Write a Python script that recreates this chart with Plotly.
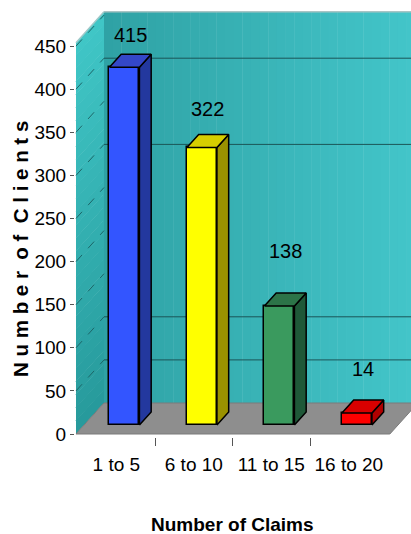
import plotly.graph_objects as go

# ---------------- data ----------------
categories = ["1 to 5", "6 to 10", "11 to 15", "16 to 20"]
clients = [415, 322, 138, 14]
y_tick_values = [0, 50, 100, 150, 200, 250, 300, 350, 400, 450]
back_grid_values = [50, 100, 300, 400]

# ---------------- styles ----------------
front_colors = ["#3355FF", "#FFFF00", "#3A9A5E", "#FF0000"]
side_colors = ["#23389E", "#9A9200", "#1F5838", "#B00000"]
top_colors = ["#3447C8", "#D6CE00", "#2C7448", "#D80000"]
label_shift = [19, 25, 42, 31]

FONT = "Liberation Sans, Arial, sans-serif"

W, H = 411, 534
ML, MR, MT, MB = 75, 0, 0, 97
PW, PH = W - ML - MR, H - MT - MB
PX_PER_CAT = 77.5
PX_PER_VAL = 0.862
CAT0_PX = 116.3
ZERO_PX = 434.0

x_min = -(CAT0_PX - ML) / PX_PER_CAT
x_max = x_min + PW / PX_PER_CAT
y_min = -(MT + PH - ZERO_PX) / PX_PER_VAL
y_max = y_min + PH / PX_PER_VAL

DEPTH_DX = 28 / PX_PER_CAT
DEPTH_DY = 31 / PX_PER_VAL
Z_FRONT, Z_BACK = 0.29, 0.71
BAR_W = 0.387
WALL_X = -0.52
RIGHT_X = 3.53
WALL_TOP = 454


def proj(x, v, z):
    return x + z * DEPTH_DX, v + z * DEPTH_DY


def hexc(c):
    c = c.lstrip("#")
    return [int(c[i:i + 2], 16) for i in (0, 2, 4)]


def lerp(c1, c2, t):
    a, b = hexc(c1), hexc(c2)
    return "rgb(%d,%d,%d)" % tuple(round(a[k] + (b[k] - a[k]) * t) for k in range(3))


def poly_path(pts):
    return "M " + " L ".join("%.5f,%.5f" % p for p in pts) + " Z"


def px_to_paper(xp, yp):
    return (xp - ML) / PW, (MT + PH - yp) / PH


shapes = []
# back wall (horizontal gradient in strips)
N = 40
bx0, _ = proj(WALL_X, 0, 1)
bx1 = x_max + 0.5
_, bv0 = proj(0, 0, 1)
_, bv1 = proj(0, WALL_TOP, 1)
for k in range(N):
    xa = bx0 + (bx1 - bx0) * k / N
    xb = bx0 + (bx1 - bx0) * (k + 1.05) / N
    shapes.append(dict(type="rect", xref="x", yref="y", x0=xa, x1=xb, y0=bv0, y1=bv1,
                       fillcolor=lerp("#2FA2A5", "#45C9CD", k / (N - 1)),
                       line=dict(width=0), layer="below"))
# side wall (vertical gradient in bands)
M = 30
for k in range(M):
    va = WALL_TOP * k / M
    vb = WALL_TOP * min(1, (k + 1.05) / M)
    pts = [proj(WALL_X, va, 0), proj(WALL_X, vb, 0), proj(WALL_X, vb, 1), proj(WALL_X, va, 1)]
    shapes.append(dict(type="path", xref="x", yref="y", path=poly_path(pts),
                       fillcolor=lerp("#279A9C", "#40C6C6", k / (M - 1)),
                       line=dict(width=0), layer="below"))
# floor
floor_pts = [proj(WALL_X, 0, 0), proj(WALL_X, 0, 1), proj(RIGHT_X, 0, 1), proj(RIGHT_X, 0, 0)]
shapes.append(dict(type="path", xref="x", yref="y", path=poly_path(floor_pts),
                   fillcolor="#8E8E8E", line=dict(width=1, color="#7A7A7A"), layer="below"))
# top edges of walls
p_a, p_b = proj(WALL_X, WALL_TOP, 0), proj(WALL_X, WALL_TOP, 1)
shapes.append(dict(type="line", xref="x", yref="y", x0=p_a[0], y0=p_a[1], x1=p_b[0], y1=p_b[1],
                   line=dict(color="#9FC9C9", width=1.5), layer="below"))
shapes.append(dict(type="line", xref="x", yref="y", x0=p_b[0], y0=p_b[1], x1=bx1, y1=p_b[1],
                   line=dict(color="#A9C4C4", width=1.5), layer="below"))
# back wall gridlines
for v in back_grid_values:
    a, b = proj(WALL_X, v, 1), proj(RIGHT_X + 1, v, 1)
    shapes.append(dict(type="line", xref="x", yref="y", x0=a[0], y0=a[1], x1=b[0], y1=b[1],
                       line=dict(color="#1B5557", width=1), layer="below"))
# side wall dashed gridlines
for v in y_tick_values[1:]:
    a, b = proj(WALL_X, v, 0), proj(WALL_X, v, 1)
    shapes.append(dict(type="line", xref="x", yref="y", x0=a[0], y0=a[1], x1=b[0], y1=b[1],
                       line=dict(color="#1C6668", width=1, dash="dash"), layer="below"))

fig = go.Figure()
# front faces of bars
fig.add_trace(go.Bar(
    x=[i + Z_FRONT * DEPTH_DX for i in range(len(categories))],
    y=clients,
    base=Z_FRONT * DEPTH_DY,
    width=BAR_W,
    marker=dict(color=front_colors, line=dict(color="#000000", width=1.5)),
    hoverinfo="skip", showlegend=False,
))
# side and top faces
for i, v in enumerate(clients):
    xl, xr = i - BAR_W / 2, i + BAR_W / 2
    side = [proj(xr, 0, Z_FRONT), proj(xr, v, Z_FRONT), proj(xr, v, Z_BACK), proj(xr, 0, Z_BACK)]
    top = [proj(xl, v, Z_FRONT), proj(xr, v, Z_FRONT), proj(xr, v, Z_BACK), proj(xl, v, Z_BACK)]
    for pts, col in ((side, side_colors[i]), (top, top_colors[i])):
        fig.add_trace(go.Scatter(
            x=[p[0] for p in pts] + [pts[0][0]], y=[p[1] for p in pts] + [pts[0][1]],
            mode="lines", fill="toself", fillcolor=col,
            line=dict(color="#000000", width=1.5),
            hoverinfo="skip", showlegend=False))

annotations = []
for i, v in enumerate(clients):
    cx, _ = proj(i, v, (Z_FRONT + Z_BACK) / 2)
    _, ty = proj(i, v, Z_BACK)
    annotations.append(dict(x=cx, y=ty, xref="x", yref="y", text=str(v), showarrow=False,
                            xanchor="center", yanchor="middle", yshift=label_shift[i],
                            font=dict(family=FONT, size=20, color="#000000")))
tx, ty = px_to_paper(232, 524)
annotations.append(dict(x=tx, y=ty, xref="paper", yref="paper",
                        text="<b>Number of Claims</b>", showarrow=False,
                        xanchor="center", yanchor="middle",
                        font=dict(family=FONT, size=19, color="#000000")))
tx, ty = px_to_paper(20, 249)
annotations.append(dict(x=tx, y=ty, xref="paper", yref="paper",
                        text="<b>N u m b e r&nbsp; o f&nbsp; C l i e n t s</b>", showarrow=False,
                        textangle=-90, xanchor="center", yanchor="middle",
                        font=dict(family=FONT, size=20.5, color="#000000")))

fig.update_layout(
    width=W, height=H,
    margin=dict(l=ML, r=MR, t=MT, b=MB),
    paper_bgcolor="#FFFFFF", plot_bgcolor="rgba(0,0,0,0)",
    shapes=shapes, annotations=annotations,
    showlegend=False, bargap=0,
    xaxis=dict(range=[x_min, x_max], tickvals=list(range(len(categories))), ticktext=categories,
               ticks="", showgrid=False, zeroline=False, showline=False, tickangle=0,
               tickfont=dict(family=FONT, size=19, color="#000000"),
               ticklabelstandoff=14,
               minor=dict(tickvals=[0.5, 1.5, 2.5], ticks="outside", ticklen=8,
                          tickwidth=1, tickcolor="#555555", showgrid=False)),
    yaxis=dict(range=[y_min, y_max], tickvals=y_tick_values, ticks="outside", ticklen=4,
               tickcolor="#555555", showgrid=False, zeroline=False, showline=False,
               tickfont=dict(family=FONT, size=19, color="#000000")),
)

fig.write_html("out.html")
